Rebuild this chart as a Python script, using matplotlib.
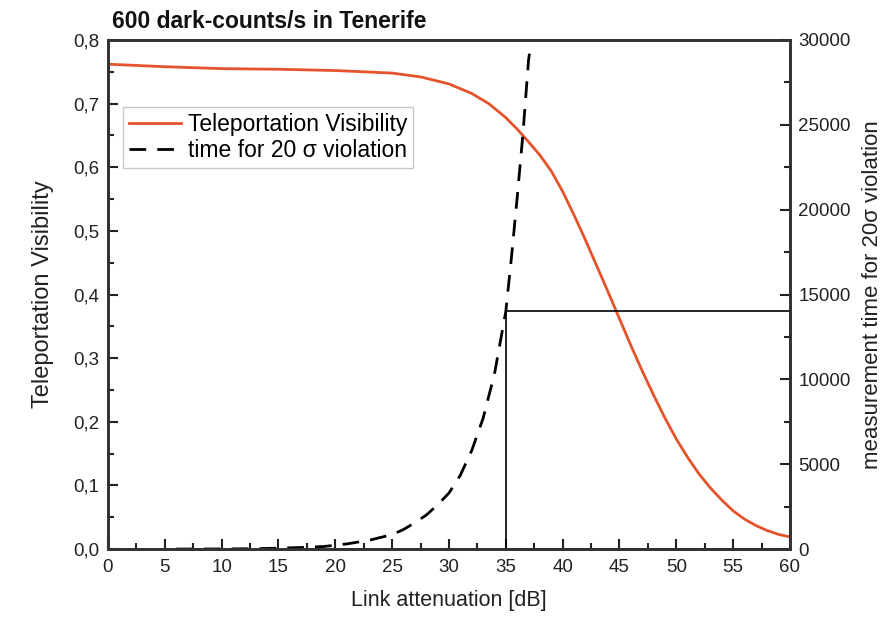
import matplotlib
import matplotlib.pyplot as plt
from matplotlib.ticker import MultipleLocator, FuncFormatter

matplotlib.use('Agg')

plt.rcParams['font.family'] = ['Liberation Sans', 'DejaVu Sans']

# teleportation visibility vs link attenuation
att_vis = [0, 5, 10, 15, 20, 25, 27.5, 30, 32, 33.5, 35, 36, 37, 38, 39, 40, 41, 42,
           43, 44, 45, 46, 47, 48, 49, 50, 51, 52, 53, 54, 55, 56, 57, 58, 59, 60]
visibility = [0.762, 0.758, 0.755, 0.754, 0.752, 0.748, 0.742, 0.731, 0.716, 0.700,
              0.678, 0.660, 0.640, 0.619, 0.594, 0.562, 0.525, 0.486, 0.445, 0.404,
              0.362, 0.320, 0.280, 0.242, 0.206, 0.173, 0.144, 0.118, 0.096, 0.077,
              0.060, 0.047, 0.037, 0.029, 0.023, 0.019]

# measurement time needed for a 20 sigma violation
att_time = [6, 10, 13, 15, 17, 19, 21, 23, 25, 26, 27, 28, 29, 30, 31, 32, 33,
            34, 35, 35.5, 36, 36.5, 37, 37.1]
meas_time = [0, 5, 20, 50, 90, 150, 300, 520, 850, 1150, 1550, 2000, 2600, 3300,
             4350, 5800, 7700, 10300, 14000, 17200, 20700, 24400, 28800, 29300]

# region marked by the box
box_x = [35, 35, 60, 60, 35]
box_y = [0, 14000, 14000, 0, 0]

fig = plt.figure(figsize=(8.9, 6.21), dpi=100)
ax = fig.add_axes([0.1213, 0.1159, 0.7663, 0.8197])
ax2 = ax.twinx()

l1, = ax.plot(att_vis, visibility, color='#e5532d', lw=2, label='Teleportation Visibility')
l2, = ax2.plot(att_time, meas_time, color='black', lw=2, ls=(0, (6, 4)),
               label='time for 20 σ violation')
ax2.plot(box_x, box_y, color='black', lw=1.2)

ax.set_xlim(0, 60)
ax.set_ylim(0, 0.8)
ax2.set_ylim(0, 30000)

ax.xaxis.set_major_locator(MultipleLocator(5))
ax.xaxis.set_minor_locator(MultipleLocator(2.5))
ax.yaxis.set_major_locator(MultipleLocator(0.1))
ax.yaxis.set_minor_locator(MultipleLocator(0.05))
ax.yaxis.set_major_formatter(FuncFormatter(lambda v, p: f'{v:.1f}'.replace('.', ',')))
ax2.yaxis.set_major_locator(MultipleLocator(5000))
ax2.yaxis.set_minor_locator(MultipleLocator(2500))

for a in (ax, ax2):
    a.tick_params(which='both', direction='in', width=1.5, labelsize=13.5, colors='#222222')
    a.tick_params(which='major', length=7)
    a.tick_params(which='minor', length=4)
    for s in a.spines.values():
        s.set_linewidth(2)
        s.set_color('#333333')
ax.tick_params(axis='x', pad=7)
ax.tick_params(axis='y', pad=6)
ax2.tick_params(axis='y', pad=6)

ax.set_xlabel('Link attenuation [dB]', fontsize=15.5, color='#222222', labelpad=10)
ax.set_ylabel('Teleportation Visibility', fontsize=17, color='#222222', labelpad=14)
ax2.set_ylabel('measurement time for 20σ violation', fontsize=16,
               color='#222222', labelpad=8)
fig.text(112 / 890, 1 - 28 / 621, '600 dark-counts/s in Tenerife', fontsize=16.5,
         fontweight='bold', color='#111111')

leg = ax2.legend(handles=[l1, l2], loc='upper left', bbox_to_anchor=(0.022, 0.868),
                 borderaxespad=0, fontsize=16.5, frameon=True, fancybox=False,
                 handlelength=2.3, handletextpad=0.3, borderpad=0.25, labelspacing=0.15)
leg.get_frame().set_edgecolor('#bbbbbb')
leg.get_frame().set_linewidth(1)

plt.savefig('out.png', dpi=100)
plt.close()
